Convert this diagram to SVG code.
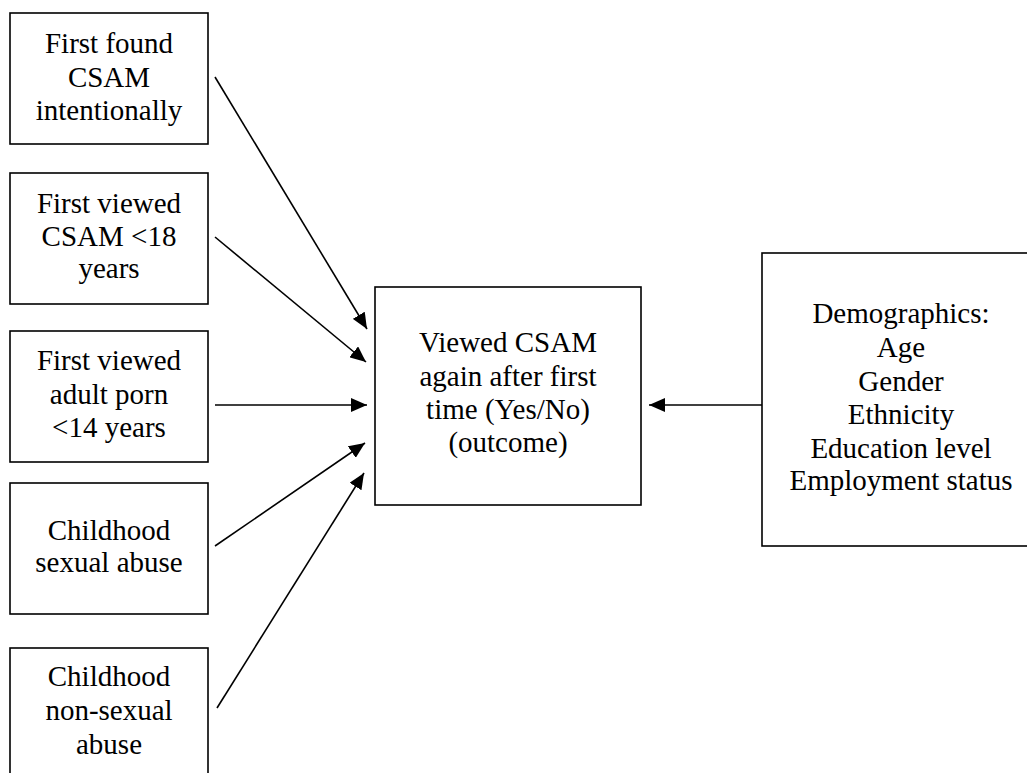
<svg xmlns="http://www.w3.org/2000/svg" width="1027" height="773" viewBox="0 0 1027 773">
  <style>
    .box { fill: #ffffff; stroke: #000000; stroke-width: 1.6; }
    .lbl { font-family: "Liberation Serif", "Times New Roman", serif; font-size: 29px; fill: #000000; text-anchor: middle; }
    .edge { stroke: #000000; stroke-width: 1.6; fill: none; marker-end: url(#head); }
  </style>
  <defs>
    <marker id="head" markerUnits="userSpaceOnUse" markerWidth="16" markerHeight="14" refX="16" refY="7" orient="auto">
      <path d="M0,0 L16,7 L0,14 Z" fill="#000000"/>
    </marker>
  </defs>
  <rect width="1027" height="773" fill="#ffffff"/>

  <!-- predictors -->
  <g id="found-intentionally">
    <rect class="box" x="10" y="13" width="198" height="131"/>
    <text class="lbl" x="109" y="53">First found</text>
    <text class="lbl" x="109" y="87">CSAM</text>
    <text class="lbl" x="109" y="120">intentionally</text>
  </g>
  <g id="viewed-under-18">
    <rect class="box" x="10" y="173" width="198" height="131"/>
    <text class="lbl" x="109" y="213">First viewed</text>
    <text class="lbl" x="109" y="246">CSAM &lt;18</text>
    <text class="lbl" x="109" y="278">years</text>
  </g>
  <g id="adult-porn-under-14">
    <rect class="box" x="10" y="331" width="198" height="131"/>
    <text class="lbl" x="109" y="370">First viewed</text>
    <text class="lbl" x="109" y="404">adult porn</text>
    <text class="lbl" x="109" y="437">&lt;14 years</text>
  </g>
  <g id="sexual-abuse">
    <rect class="box" x="10" y="483" width="198" height="131"/>
    <text class="lbl" x="109" y="540">Childhood</text>
    <text class="lbl" x="109" y="572">sexual abuse</text>
  </g>
  <g id="non-sexual-abuse">
    <rect class="box" x="10" y="648" width="198" height="140"/>
    <text class="lbl" x="109" y="686">Childhood</text>
    <text class="lbl" x="109" y="720">non-sexual</text>
    <text class="lbl" x="109" y="754">abuse</text>
  </g>

  <!-- outcome -->
  <g id="outcome">
    <rect class="box" x="375" y="287" width="266" height="218"/>
    <text class="lbl" x="508" y="352">Viewed CSAM</text>
    <text class="lbl" x="508" y="386">again after first</text>
    <text class="lbl" x="508" y="419">time (Yes/No)</text>
    <text class="lbl" x="508" y="452">(outcome)</text>
  </g>

  <!-- covariates -->
  <g id="demographics">
    <rect class="box" x="762" y="253" width="280" height="293"/>
    <text class="lbl" x="901" y="323">Demographics:</text>
    <text class="lbl" x="901" y="357">Age</text>
    <text class="lbl" x="901" y="391">Gender</text>
    <text class="lbl" x="901" y="424">Ethnicity</text>
    <text class="lbl" x="901" y="458">Education level</text>
    <text class="lbl" x="901" y="490">Employment status</text>
  </g>

  <g id="connectors">
    <line class="edge" x1="215" y1="77" x2="367" y2="329"/>
    <line class="edge" x1="215" y1="237" x2="366" y2="362"/>
    <line class="edge" x1="215" y1="405" x2="367" y2="405"/>
    <line class="edge" x1="215" y1="546" x2="365" y2="443"/>
    <line class="edge" x1="217" y1="708" x2="364" y2="473"/>
    <line class="edge" x1="762" y1="405" x2="649" y2="405"/>
  </g>
</svg>
